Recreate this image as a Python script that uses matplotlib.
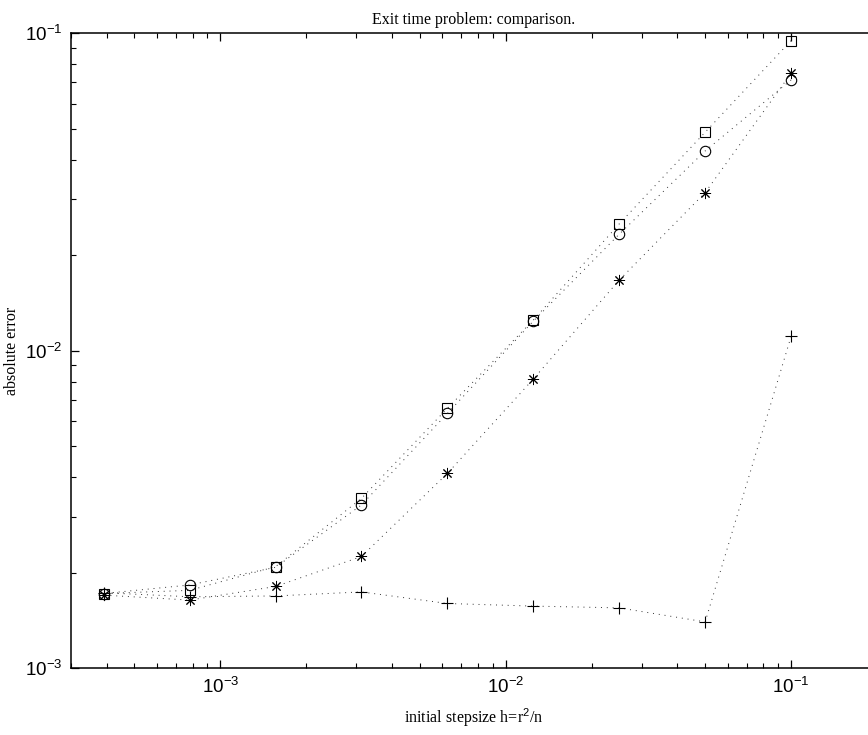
import matplotlib
matplotlib.use("Agg")
import matplotlib.pyplot as plt
from matplotlib.ticker import LogLocator, NullFormatter

# initial stepsize h = r^2/n
h = [0.1, 0.05, 0.025, 0.0125, 0.00625, 0.003125, 0.0015625, 0.00078125, 0.000390625]

# absolute error
err_square = [0.0948, 0.0488, 0.0251, 0.0125, 0.00659, 0.00343, 0.00209, 0.00176, 0.00172]
err_circle = [0.0713, 0.0426, 0.0233, 0.0124, 0.00635, 0.00327, 0.00208, 0.00183, 0.00172]
err_star = [0.0748, 0.0315, 0.0167, 0.00815, 0.00411, 0.00225, 0.00181, 0.00164, 0.00170]
err_plus = [0.0111, 0.00140, 0.00155, 0.00157, 0.00160, 0.00174, 0.00169, 0.00168, 0.00173]

plt.rcParams['mathtext.fontset'] = 'custom'
plt.rcParams['mathtext.rm'] = 'Liberation Sans'
plt.rcParams['mathtext.it'] = 'Liberation Sans:italic'

fig = plt.figure(figsize=(8.68, 7.35), dpi=100)
# right edge of the axes lies just outside the picture (xlim up to 0.2)
ax = fig.add_axes([71 / 868, 1 - 668.3 / 735, (877 - 71) / 868, (668.3 - 33.3) / 735])

# dotted lines, markers drawn separately in black
dots = (0, (1, 5))
for err, mk, ms, mew in [(err_square, 's', 6.5, 0.8),
                         (err_circle, 'o', 7.5, 0.8),
                         (err_star, (8, 2, 0), 8, 0.7),
                         (err_plus, '+', 8, 0.8)]:
    ax.plot(h, err, color='0.2', ls=dots, lw=0.7)
    ax.plot(h, err, ls='none', marker=mk, ms=ms, mfc='none', mec='k', mew=mew)

ax.set_xscale('log')
ax.set_yscale('log')
ax.set_xlim(3e-4, 0.2)
ax.set_ylim(1e-3, 1e-1)

ax.xaxis.set_major_locator(LogLocator(base=10, numticks=10))
ax.yaxis.set_major_locator(LogLocator(base=10, numticks=10))
ax.xaxis.set_minor_locator(LogLocator(base=10, subs=range(2, 10), numticks=20))
ax.yaxis.set_minor_locator(LogLocator(base=10, subs=range(2, 10), numticks=20))
ax.xaxis.set_minor_formatter(NullFormatter())
ax.yaxis.set_minor_formatter(NullFormatter())

ax.tick_params(which='both', direction='in', top=True, right=True, labelsize=13.5, pad=6)
ax.tick_params(which='major', length=5.5, width=0.9)
ax.tick_params(which='minor', length=3.5, width=0.8)
for tl in ax.get_xticklabels() + ax.get_yticklabels():
    tl.set_family('Liberation Sans')
for sp in ax.spines.values():
    sp.set_linewidth(1.1)

serif = 'Liberation Serif'
ax.set_title('Exit time problem: comparison.', family=serif, fontsize=11.5, pad=7)
ax.set_xlabel('initial stepsize h=r$^2$/n', family=serif, fontsize=11.5)
ax.set_ylabel('absolute error', family=serif, fontsize=11.5)
ax.xaxis.set_label_coords((474 - 71) / 806, -(718 - 668.3) / 635, transform=ax.transAxes)
ax.yaxis.set_label_coords(-(71 - 12) / 806, 0.5, transform=ax.transAxes)
ax.xaxis.label.set_va('center')
ax.yaxis.label.set_va('center')

fig.savefig('out.png', dpi=100)
